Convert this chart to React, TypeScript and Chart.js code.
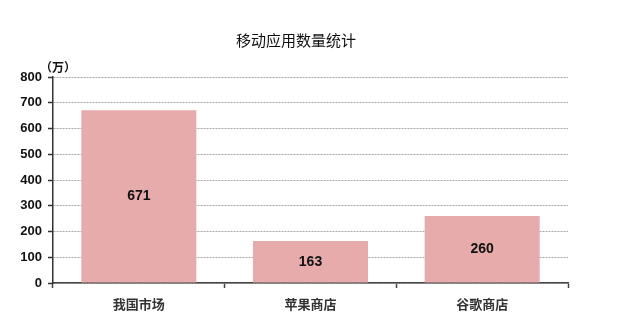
import React, { useEffect, useRef } from "react";
import { Chart, registerables } from "chart.js";

Chart.register(...registerables);

const categories = ["我国市场", "苹果商店", "谷歌商店"];
const appCounts = [671, 163, 260];
const yTicks = [0, 100, 200, 300, 400, 500, 600, 700, 800];
const titleText = "移动应用数量统计";
const unitText = "（万）";

const barColor = "#E6ABAA";

const overlayPlugin = {
  id: "overlay",
  afterDatasetsDraw(chart: any) {
    const { ctx, chartArea } = chart;
    const meta = chart.getDatasetMeta(0);
    ctx.save();
    // value labels centred inside each bar
    ctx.font = "bold 14px 'Liberation Sans', Arial, sans-serif";
    ctx.fillStyle = "#111";
    ctx.textAlign = "center";
    ctx.textBaseline = "middle";
    meta.data.forEach((bar: any, i: number) => {
      const mid = (bar.y + bar.base) / 2;
      ctx.fillText(String(appCounts[i]), bar.x, mid);
    });
    // chart title
    ctx.font = "15px 'Noto Sans CJK SC', sans-serif";
    ctx.fillStyle = "#111";
    ctx.textAlign = "center";
    ctx.textBaseline = "middle";
    ctx.fillText(titleText, chartArea.left + chartArea.width * 0.472, 40);
    // unit label above the value axis
    ctx.font = "bold 12px 'Noto Sans CJK SC', serif";
    ctx.textAlign = "left";
    ctx.textBaseline = "alphabetic";
    ctx.fillText(unitText, chartArea.left - 13, chartArea.top - 5);
    ctx.restore();
  },
};

export default function App() {
  const canvasRef = useRef<HTMLCanvasElement | null>(null);

  useEffect(() => {
    document.body.style.margin = "0";
    const canvas = canvasRef.current;
    if (!canvas) return;
    const chart = new Chart(canvas, {
      type: "bar",
      data: {
        labels: categories,
        datasets: [
          {
            data: appCounts,
            backgroundColor: barColor,
            borderWidth: 0,
            barPercentage: 0.67,
            categoryPercentage: 1,
          },
        ],
      },
      options: {
        responsive: false,
        animation: false,
        events: [],
        layout: { padding: { left: 0, right: 50, top: 77, bottom: 0 } },
        plugins: {
          legend: { display: false },
          title: { display: false },
          tooltip: { enabled: false },
        },
        scales: {
          x: {
            offset: true,
            grid: {
              offset: true,
              drawOnChartArea: false,
              drawTicks: true,
              tickLength: 5,
              tickColor: "#444",
              tickWidth: 1.5,
            },
            border: { display: true, color: "#444", width: 1.5 },
            ticks: {
              color: "#333",
              padding: 8,
              font: { family: "'Noto Sans CJK SC', serif", size: 13, weight: "bold" },
            },
            afterFit(scale: any) {
              scale.height = 42;
            },
          },
          y: {
            min: 0,
            max: 800,
            afterBuildTicks(scale: any) {
              scale.ticks = yTicks.map((v) => ({ value: v }));
            },
            grid: {
              color: "#A8A8A8",
              lineWidth: 1,
              drawTicks: true,
              tickLength: 5,
              tickColor: "#333",
              tickWidth: 1.5,
              tickBorderDash: [],
            } as any,
            border: { display: true, color: "#333", width: 1.5, dash: [2, 1] },
            ticks: {
              color: "#111",
              padding: 6,
              font: { family: "'Liberation Sans', Arial, sans-serif", size: 13, weight: "bold" },
            },
            afterFit(scale: any) {
              scale.width = 53;
            },
          },
        },
      },
      plugins: [overlayPlugin],
    });
    return () => chart.destroy();
  }, []);

  return (
    <div style={{ position: "absolute", left: 0, top: 0, width: 618, height: 325, background: "#fff" }}>
      <canvas ref={canvasRef} width={618} height={325} />
    </div>
  );
}
